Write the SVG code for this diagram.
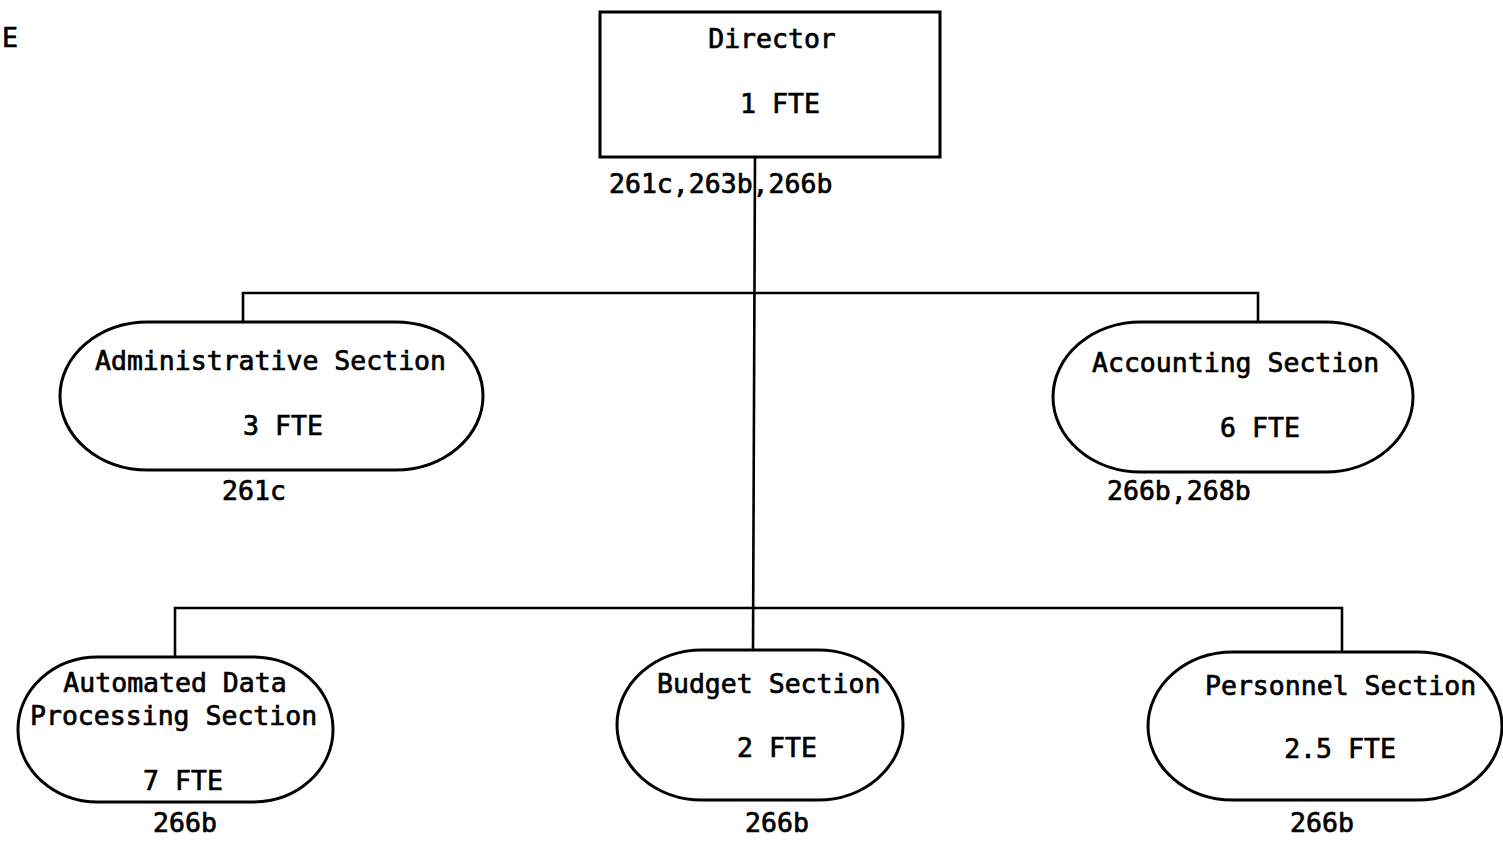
<svg xmlns="http://www.w3.org/2000/svg" width="1503" height="841" viewBox="0 0 1503 841">
<style>
text{font-family:"DejaVu Sans Mono","Liberation Mono",monospace;font-size:26.5px;fill:#000;stroke:#000;stroke-width:0.7}
.m{text-anchor:middle}
.shape{fill:#fff;stroke:#000;stroke-width:3}
.conn{fill:none;stroke:#000;stroke-width:2.6}
</style>
<rect width="1503" height="841" fill="#fff"/>
<text x="2" y="47">E</text>
<g id="connectors">
<path class="conn" d="M755 157 L753 650"/>
<path class="conn" d="M243 322 L243 293 L1258 293 L1258 322"/>
<path class="conn" d="M175 660 L175 608 L1342 608 L1342 654"/>
</g>
<g id="director">
<rect class="shape" x="600" y="12" width="340" height="145"/>
<text class="m" x="772" y="48">Director</text>
<text class="m" x="780" y="113">1 FTE</text>
<text x="609" y="193">261c,263b,266b</text>
</g>
<g id="administrative">
<rect class="shape" x="60" y="322" width="423" height="148" rx="88" ry="74"/>
<text x="95" y="370">Administrative Section</text>
<text class="m" x="283" y="435">3 FTE</text>
<text class="m" x="254" y="500">261c</text>
</g>
<g id="accounting">
<rect class="shape" x="1053" y="322" width="360" height="150" rx="88" ry="75"/>
<text x="1092" y="372">Accounting Section</text>
<text class="m" x="1260" y="437">6 FTE</text>
<text x="1107" y="500">266b,268b</text>
</g>
<g id="adp">
<rect class="shape" x="18" y="657" width="315" height="145" rx="80" ry="72"/>
<text class="m" x="175" y="692">Automated Data</text>
<text x="30" y="725">Processing Section</text>
<text class="m" x="183" y="790">7 FTE</text>
<text class="m" x="185" y="832">266b</text>
</g>
<g id="budget">
<rect class="shape" x="617" y="650" width="286" height="150" rx="85" ry="75"/>
<text x="657" y="693">Budget Section</text>
<text class="m" x="777" y="757">2 FTE</text>
<text class="m" x="777" y="832">266b</text>
</g>
<g id="personnel">
<rect class="shape" x="1148" y="652" width="354" height="148" rx="85" ry="74"/>
<text x="1205" y="695">Personnel Section</text>
<text class="m" x="1340" y="758">2.5 FTE</text>
<text class="m" x="1322" y="832">266b</text>
</g>
</svg>
